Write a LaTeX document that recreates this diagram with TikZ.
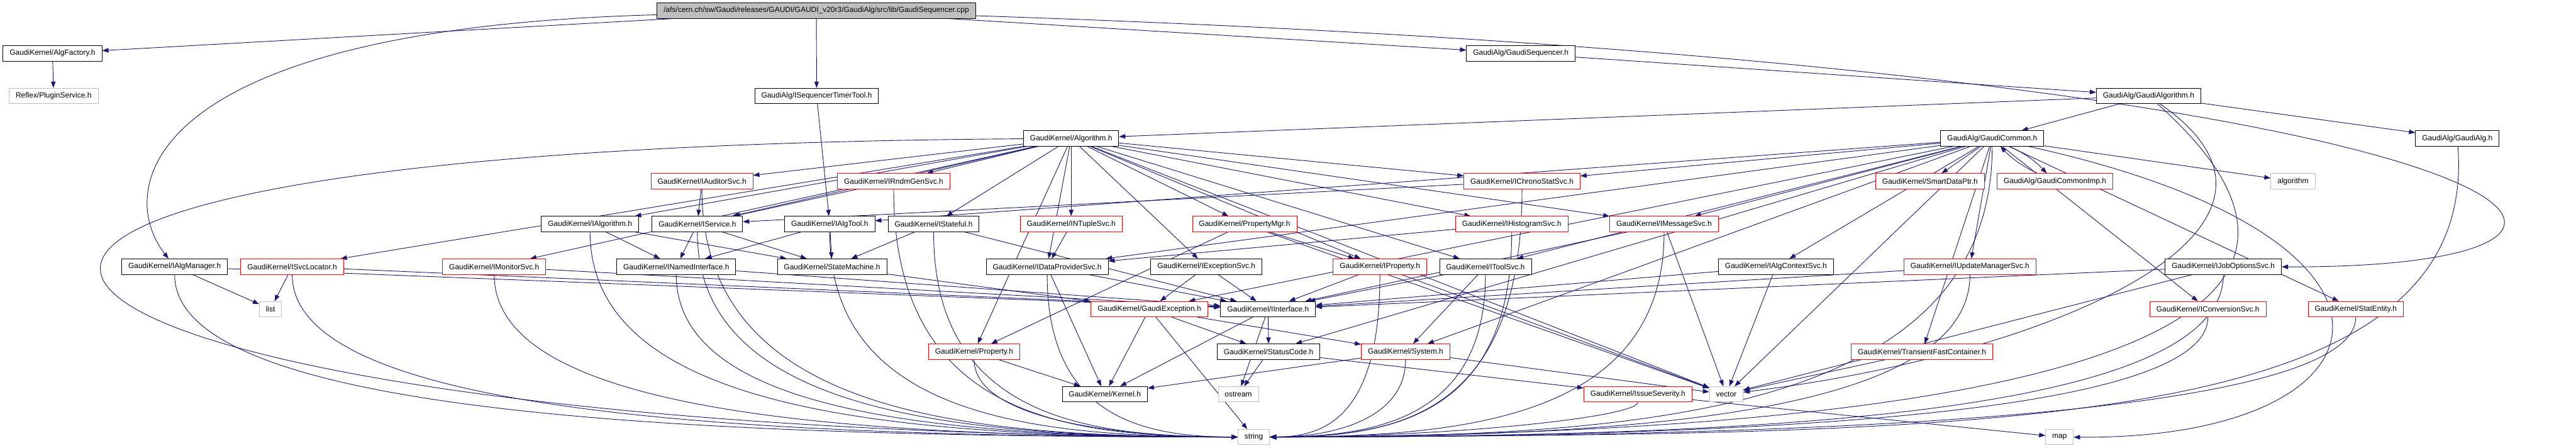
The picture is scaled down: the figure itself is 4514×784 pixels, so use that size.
\documentclass[tikz,border=0pt]{standalone}
\usepackage{fontspec}
\setmainfont{Liberation Sans}
\usetikzlibrary{arrows.meta,backgrounds}
\definecolor{edgeblue}{RGB}{25,25,112}
\definecolor{extgray}{RGB}{191,191,191}
\begin{document}
\begin{tikzpicture}[x=1pt,y=-1pt,font=\fontsize{13.2}{15}\selectfont, >={Triangle[length=11pt,width=8pt]},
 box/.style={draw,fill=white,line width=1pt,minimum height=27pt,inner xsep=11.5pt,inner ysep=0pt},
 cut/.style={box,draw=red},
 ext/.style={box,draw=extgray},
 arr/.style={->,draw=edgeblue,line width=1pt}]
\useasboundingbox (0,0) rectangle (4514,784);
\node[box,fill=extgray] (root) at (1430.5,18.5) {/afs/cern.ch/sw/Gaudi/releases/GAUDI/GAUDI\_v20r3/GaudiAlg/src/lib/GaudiSequencer.cpp};
\node[box] (algfac) at (92,93.5) {GaudiKernel/AlgFactory.h};
\node[box] (seqh) at (2665,93.5) {GaudiAlg/GaudiSequencer.h};
\node[ext] (plugin) at (94,168) {Reflex/PluginService.h};
\node[box] (timer) at (1431,168) {GaudiAlg/ISequencerTimerTool.h};
\node[box] (galgo) at (3765,168) {GaudiAlg/GaudiAlgorithm.h};
\node[box] (alg) at (1877,242.5) {GaudiKernel/Algorithm.h};
\node[box] (gcom) at (3491,242.5) {GaudiAlg/GaudiCommon.h};
\node[box] (galg) at (4306,242.5) {GaudiAlg/GaudiAlg.h};
\node[cut] (audsvc) at (1230,317.5) {GaudiKernel/IAuditorSvc.h};
\node[cut] (rndm) at (1566,317.5) {GaudiKernel/IRndmGenSvc.h};
\node[cut] (chrono) at (2667,317.5) {GaudiKernel/IChronoStatSvc.h};
\node[cut] (smart) at (3382,317.5) {GaudiKernel/SmartDataPtr.h};
\node[cut] (gcimp) at (3601,317.5) {GaudiAlg/GaudiCommonImp.h};
\node[ext] (algo) at (4018,317.5) {algorithm};
\node[box] (ialg) at (1034,392.5) {GaudiKernel/IAlgorithm.h};
\node[box] (isvc) at (1222,392.5) {GaudiKernel/IService.h};
\node[box] (itool) at (1454,392.5) {GaudiKernel/IAlgTool.h};
\node[box] (istate) at (1636,392.5) {GaudiKernel/IStateful.h};
\node[cut] (ntuple) at (1877,392.5) {GaudiKernel/INTupleSvc.h};
\node[cut] (propmgr) at (2181,392.5) {GaudiKernel/PropertyMgr.h};
\node[cut] (histo) at (2649,392.5) {GaudiKernel/IHistogramSvc.h};
\node[cut] (msgsvc) at (2916,392.5) {GaudiKernel/IMessageSvc.h};
\node[box] (algmgr) at (306,467) {GaudiKernel/IAlgManager.h};
\node[cut] (svcloc) at (512,467) {GaudiKernel/ISvcLocator.h};
\node[cut] (monitor) at (866,467) {GaudiKernel/IMonitorSvc.h};
\node[box] (named) at (1185,467) {GaudiKernel/INamedInterface.h};
\node[box] (statem) at (1458,467) {GaudiKernel/StateMachine.h};
\node[box] (datasvc) at (1835,467) {GaudiKernel/IDataProviderSvc.h};
\node[box] (excsvc) at (2114,467) {GaudiKernel/IExceptionSvc.h};
\node[cut] (iprop) at (2418,467) {GaudiKernel/IProperty.h};
\node[box] (toolsvc) at (2603,467) {GaudiKernel/IToolSvc.h};
\node[box] (ctxsvc) at (3112,467) {GaudiKernel/IAlgContextSvc.h};
\node[cut] (updsvc) at (3452,467) {GaudiKernel/IUpdateManagerSvc.h};
\node[box] (josvc) at (3896,467) {GaudiKernel/IJobOptionsSvc.h};
\node[ext] (lst) at (474,541.5) {list};
\node[cut] (gexc) at (2014,541.5) {GaudiKernel/GaudiException.h};
\node[box] (iface) at (2222,541.5) {GaudiKernel/IInterface.h};
\node[cut] (convsvc) at (3869,541.5) {GaudiKernel/IConversionSvc.h};
\node[cut] (statent) at (4128,541.5) {GaudiKernel/StatEntity.h};
\node[cut] (prop) at (1707,616) {GaudiKernel/Property.h};
\node[box] (stcode) at (2223,616) {GaudiKernel/StatusCode.h};
\node[cut] (system) at (2463,616) {GaudiKernel/System.h};
\node[cut] (tfc) at (3368,616) {GaudiKernel/TransientFastContainer.h};
\node[box] (kernel) at (1936,690.5) {GaudiKernel/Kernel.h};
\node[ext] (ostr) at (2170,690.5) {ostream};
\node[cut] (issue) at (2870,690.5) {GaudiKernel/IssueSeverity.h};
\node[ext] (vec) at (3025,690.5) {vector};
\node[ext] (str) at (2197,765.5) {string};
\node[ext] (mp) at (3609,765.5) {map};
\begin{scope}[on background layer]
\fill[white] (0,0) rectangle (4514,784);
\draw[arr] (root) -- (algfac);
\draw[arr] (root) .. controls (250,50) and (200,330) .. (algmgr);
\draw[arr] (root) -- (seqh);
\draw[arr] (root) -- (timer);
\draw[arr] (root) .. controls (4500,120) and (4800,470) .. (josvc);
\draw[arr] (algfac) -- (plugin);
\draw[arr] (seqh) -- (galgo);
\draw[arr] (timer) -- (itool);
\draw[arr] (galgo) -- (alg);
\draw[arr] (galgo) -- (gcom);
\draw[arr] (galgo) -- (galg);
\draw[arr] (galgo) .. controls (4100,400) and (3600,620) .. (vec);
\draw[arr] (galgo) .. controls (4250,600) and (3500,760) .. (str);
\draw[arr] (galg) .. controls (4345,760) and (3500,760) .. (str);
\draw[arr] (gcom) to[bend left=10] (gcimp);
\draw[arr] (gcimp) to[bend left=10] (gcom);
\draw[arr] (gcom) -- (smart);
\draw[arr] (gcom) -- (algo);
\draw[arr] (gcom) -- (chrono);
\draw[arr] (gcom) -- (msgsvc);
\draw[arr] (gcom) -- (ctxsvc);
\draw[arr] (gcom) -- (updsvc);
\draw[arr] (gcom) -- (tfc);
\draw[arr] (gcom) -- (statent);
\draw[arr] (gcom) -- (convsvc);
\draw[arr] (gcom) -- (toolsvc);
\draw[arr] (gcom) -- (datasvc);
\draw[arr] (gcom) -- (itool);
\draw[arr] (gcom) -- (gexc);
\draw[arr] (gcom) -- (stcode);
\draw[arr] (gcom) -- (system);
\draw[arr] (gcom) -- (vec);
\draw[arr] (gcom) .. controls (3491,730) and (2858,765) .. (str);
\draw[arr] (gcom) .. controls (4300,420) and (4200,770) .. (mp);
\draw[arr] (alg) -- (audsvc);
\draw[arr] (alg) -- (rndm);
\draw[arr] (alg) -- (chrono);
\draw[arr] (alg) -- (ialg);
\draw[arr] (alg) -- (isvc);
\draw[arr] (alg) -- (istate);
\draw[arr] (alg) -- (ntuple);
\draw[arr] (alg) -- (propmgr);
\draw[arr] (alg) -- (histo);
\draw[arr] (alg) -- (msgsvc);
\draw[arr] (alg) -- (svcloc);
\draw[arr] (alg) -- (monitor);
\draw[arr] (alg) -- (datasvc);
\draw[arr] (alg) -- (excsvc);
\draw[arr] (alg) -- (iprop);
\draw[arr] (alg) -- (toolsvc);
\draw[arr] (alg) -- (prop);
\draw[arr] (alg) -- (vec);
\draw[arr] (alg) .. controls (-700,260) and (-100,760) .. (str);
\draw[arr] (audsvc) -- (isvc);
\draw[arr] (audsvc) .. controls (1230,730) and (1700,765) .. (str);
\draw[arr] (rndm) -- (isvc);
\draw[arr] (rndm) .. controls (1566,730) and (1868,765) .. (str);
\draw[arr] (chrono) -- (isvc);
\draw[arr] (chrono) .. controls (2667,730) and (2446,765) .. (str);
\draw[arr] (ialg) -- (named);
\draw[arr] (ialg) -- (statem);
\draw[arr] (ialg) .. controls (1034,730) and (1602,765) .. (str);
\draw[arr] (isvc) -- (named);
\draw[arr] (isvc) -- (statem);
\draw[arr] (isvc) .. controls (1222,730) and (1696,765) .. (str);
\draw[arr] (itool) -- (named);
\draw[arr] (itool) -- (statem);
\draw[arr] (itool) .. controls (1454,730) and (1812,765) .. (str);
\draw[arr] (istate) -- (statem);
\draw[arr] (istate) -- (iface);
\draw[arr] (istate) .. controls (1636,730) and (1903,765) .. (str);
\draw[arr] (ntuple) -- (datasvc);
\draw[arr] (propmgr) -- (iprop);
\draw[arr] (propmgr) -- (prop);
\draw[arr] (propmgr) -- (vec);
\draw[arr] (histo) -- (datasvc);
\draw[arr] (histo) .. controls (2649,730) and (2437,765) .. (str);
\draw[arr] (msgsvc) -- (iface);
\draw[arr] (msgsvc) -- (vec);
\draw[arr] (msgsvc) .. controls (2916,730) and (2571,765) .. (str);
\draw[arr] (algmgr) -- (lst);
\draw[arr] (algmgr) -- (iface);
\draw[arr] (algmgr) .. controls (306,730) and (1238,765) .. (str);
\draw[arr] (svcloc) -- (lst);
\draw[arr] (svcloc) -- (iface);
\draw[arr] (svcloc) .. controls (512,730) and (1341,765) .. (str);
\draw[arr] (monitor) -- (iface);
\draw[arr] (monitor) .. controls (866,730) and (1518,765) .. (str);
\draw[arr] (named) -- (iface);
\draw[arr] (named) .. controls (1185,730) and (1677,765) .. (str);
\draw[arr] (statem) -- (gexc);
\draw[arr] (datasvc) -- (kernel);
\draw[arr] (datasvc) -- (iface);
\draw[arr] (datasvc) .. controls (1835,730) and (2002,765) .. (str);
\draw[arr] (excsvc) -- (gexc);
\draw[arr] (excsvc) -- (iface);
\draw[arr] (iprop) -- (iface);
\draw[arr] (iprop) -- (vec);
\draw[arr] (iprop) .. controls (2418,730) and (2322,765) .. (str);
\draw[arr] (toolsvc) -- (iface);
\draw[arr] (toolsvc) -- (system);
\draw[arr] (toolsvc) .. controls (2603,730) and (2414,765) .. (str);
\draw[arr] (ctxsvc) -- (iface);
\draw[arr] (ctxsvc) -- (vec);
\draw[arr] (updsvc) -- (iface);
\draw[arr] (updsvc) .. controls (3452,730) and (2839,765) .. (str);
\draw[arr] (josvc) -- (iface);
\draw[arr] (josvc) -- (vec);
\draw[arr] (josvc) .. controls (3896,730) and (3061,765) .. (str);
\draw[arr] (gexc) -- (kernel);
\draw[arr] (gexc) -- (system);
\draw[arr] (gexc) -- (stcode);
\draw[arr] (gexc) -- (str);
\draw[arr] (iface) -- (stcode);
\draw[arr] (iface) -- (kernel);
\draw[arr] (iface) -- (ostr);
\draw[arr] (convsvc) .. controls (3869,730) and (3047,765) .. (str);
\draw[arr] (statent) .. controls (4128,730) and (3177,765) .. (str);
\draw[arr] (prop) -- (kernel);
\draw[arr] (prop) .. controls (1707,730) and (1938,765) .. (str);
\draw[arr] (stcode) -- (ostr);
\draw[arr] (stcode) -- (issue);
\draw[arr] (system) -- (kernel);
\draw[arr] (system) -- (vec);
\draw[arr] (system) .. controls (2463,730) and (2344,765) .. (str);
\draw[arr] (tfc) -- (vec);
\draw[arr] (issue) -- (mp);
\draw[arr] (issue) .. controls (2870,730) and (2548,765) .. (str);
\end{scope}
\end{tikzpicture}
\end{document}
